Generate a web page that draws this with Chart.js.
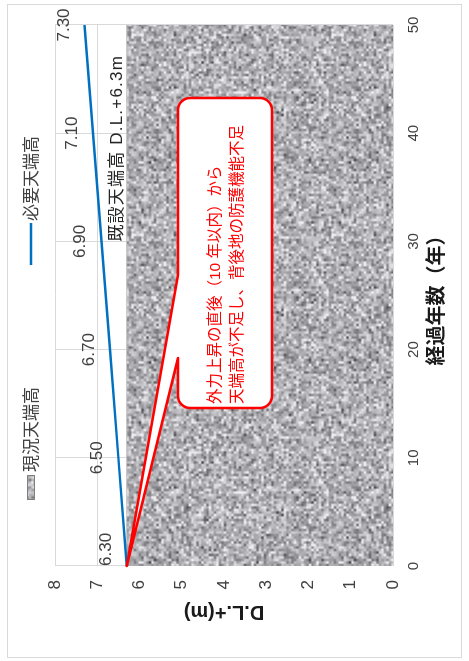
<!DOCTYPE html>
<html>
<head>
<meta charset="utf-8">
<script src="https://cdn.jsdelivr.net/npm/chart.js@4.4.1/dist/chart.umd.min.js"></script>
<style>
  html, body { margin: 0; padding: 0; background: #fff; }
  /* the chart is laid out landscape and turned a quarter turn counter-clockwise */
  #frame {
    position: absolute; left: 0; top: 0; width: 654px; height: 455px;
    transform-origin: 0 0; transform: translate(7px, 658px) rotate(-90deg);
    background: #fff;
  }
  #frame canvas { position: absolute; left: 0; top: 0; }
  #edge {
    position: absolute; left: 0; top: 0; width: 654px; height: 455px;
    box-sizing: border-box; border: 1px solid #d9d9d9; pointer-events: none;
  }
</style>
</head>
<body>
<div id="frame">
  <canvas id="chart" width="654" height="455"></canvas>
  <div id="edge"></div>
</div>
<script>
// elapsed years and crest heights (D.L.+ m)
const years = [0, 10, 20, 30, 40, 50];
const requiredCrest = [6.30, 6.50, 6.70, 6.90, 7.10, 7.30];
const existingCrest = [6.3, 6.3, 6.3, 6.3, 6.3, 6.3];
const seriesNames = ['現況天端高', '必要天端高'];
const xTitle = '経過年数（年）';
const yTitle = 'D.L.+(m)';
const crestNote = '既設天端高 D.L.+6.3m';
const calloutLines = ['外力上昇の直後（10 年以内）から', '天端高が不足し、背後地の防護機能不足'];

const FONT = '"Liberation Sans", "Noto Sans CJK JP", sans-serif';
const BLUE = '#0070C0';
const RED = '#FF0000';

// granite-like grey grain (seamless tile) used for the existing crest area
function makeGrain() {
  let s = 918273;
  const rnd = () => {
    s |= 0; s = s + 0x6D2B79F5 | 0;
    let t = Math.imul(s ^ s >>> 15, 1 | s);
    t = t + Math.imul(t ^ t >>> 7, 61 | t) ^ t;
    return ((t ^ t >>> 14) >>> 0) / 4294967296;
  };
  const n = 80, k = 2.5;
  const cells = new Float32Array(n * n);
  for (let i = 0; i < n * n; i++) {
    const r = (rnd() + rnd()) / 2;
    let v = 178 + (r - 0.5) * 160;
    if (rnd() < 0.05) v -= 50;
    cells[i] = v;
  }
  const size = n * k;
  const tile = document.createElement('canvas');
  tile.width = tile.height = size;
  const tctx = tile.getContext('2d');
  const img = tctx.createImageData(size, size);
  for (let Y = 0; Y < size; Y++) {
    for (let X = 0; X < size; X++) {
      const u = X / k, v = Y / k;
      const i0 = Math.floor(u), j0 = Math.floor(v);
      let fu = u - i0, fv = v - j0;
      fu = fu * fu * (3 - 2 * fu); fv = fv * fv * (3 - 2 * fv);
      const a = cells[(j0 % n) * n + (i0 % n)];
      const b = cells[(j0 % n) * n + ((i0 + 1) % n)];
      const c = cells[((j0 + 1) % n) * n + (i0 % n)];
      const d = cells[((j0 + 1) % n) * n + ((i0 + 1) % n)];
      let val = (a * (1 - fu) + b * fu) * (1 - fv) + (c * (1 - fu) + d * fu) * fv;
      val = Math.max(80, Math.min(236, val));
      const p = (Y * size + X) * 4;
      img.data[p] = val; img.data[p + 1] = val; img.data[p + 2] = val + 4; img.data[p + 3] = 255;
    }
  }
  tctx.putImageData(img, 0, 0);
  return tile;
}

const ctx = document.getElementById('chart').getContext('2d');
const grain = ctx.createPattern(makeGrain(), 'repeat');

function roundedCallout(c, l, t, r, b, rad, baseA, baseB, tipX, tipY) {
  c.beginPath();
  c.moveTo(l + rad, t);
  c.lineTo(baseA, t);
  c.lineTo(tipX, tipY);
  c.lineTo(baseB, t);
  c.lineTo(r - rad, t);
  c.arcTo(r, t, r, t + rad, rad);
  c.lineTo(r, b - rad);
  c.arcTo(r, b, r - rad, b, rad);
  c.lineTo(l + rad, b);
  c.arcTo(l, b, l, b - rad, rad);
  c.lineTo(l, t + rad);
  c.arcTo(l, t, l + rad, t, rad);
  c.closePath();
}

const overlay = {
  id: 'overlay',
  afterDatasetsDraw(chart) {
    const c = chart.ctx;
    const xs = chart.scales.x, ys = chart.scales.y;
    const area = chart.chartArea;
    c.save();

    // value labels above the required crest line
    c.font = '17px ' + FONT;
    c.fillStyle = '#404040';
    c.textBaseline = 'alphabetic';
    c.textAlign = 'left';
    years.forEach((yr, i) => {
      const txt = requiredCrest[i].toFixed(2);
      const w = c.measureText(txt).width;
      const px = xs.getPixelForValue(yr);
      const py = ys.getPixelForValue(requiredCrest[i]);
      let left = px - w / 2;
      if (left < area.left) left = area.left;
      c.fillText(txt, left, py - 16);
    });

    // note on the existing crest level
    c.font = '17px ' + FONT;
    c.fillStyle = '#262626';
    c.textAlign = 'right';
    if ('letterSpacing' in c) c.letterSpacing = '1.2px';
    c.fillText(crestNote, area.right - 30, ys.getPixelForValue(existingCrest[0]) - 5);
    if ('letterSpacing' in c) c.letterSpacing = '0px';

    // callout pointing at the start of the required crest line
    const bl = area.left + 158, br = area.left + 468;
    const bt = 171, bb = 265;
    const tipX = xs.getPixelForValue(years[0]);
    const tipY = ys.getPixelForValue(requiredCrest[0]);
    roundedCallout(c, bl, bt, br, bb, 12, bl + 50, bl + 133, tipX, tipY);
    c.fillStyle = '#fff';
    c.fill();
    c.lineWidth = 2.5;
    c.strokeStyle = RED;
    c.lineJoin = 'round';
    c.stroke();
    c.font = '15.5px ' + FONT;
    c.fillStyle = RED;
    c.textAlign = 'left';
    c.fillText(calloutLines[0], bl + 4, 213);
    c.fillText(calloutLines[1], bl + 4, 235);

    // legend
    const ly = 24;
    c.font = '17px ' + FONT;
    c.textBaseline = 'middle';
    c.fillStyle = grain;
    c.fillRect(158, ly - 4, 25, 8);
    c.lineWidth = 1;
    c.strokeStyle = '#7f7f7f';
    c.strokeRect(158.5, ly - 3.5, 24, 7);
    c.fillStyle = '#404040';
    c.fillText(chart.data.datasets[0].label, 186, ly + 1);
    c.beginPath();
    c.moveTo(393, ly);
    c.lineTo(435, ly);
    c.lineWidth = 2.5;
    c.strokeStyle = BLUE;
    c.stroke();
    c.fillText(chart.data.datasets[1].label, 437, ly + 1);

    c.restore();
  }
};

new Chart(ctx, {
  type: 'line',
  data: {
    datasets: [
      {
        label: seriesNames[0],
        data: years.map((x, i) => ({ x, y: existingCrest[i] })),
        fill: 'origin',
        backgroundColor: grain,
        borderColor: '#b8b8b8',
        borderWidth: 1,
        pointRadius: 0,
        order: 2
      },
      {
        label: seriesNames[1],
        data: years.map((x, i) => ({ x, y: requiredCrest[i] })),
        fill: false,
        borderColor: BLUE,
        borderWidth: 2.5,
        pointRadius: 0,
        order: 1
      }
    ]
  },
  options: {
    responsive: false,
    animation: false,
    devicePixelRatio: 1,
    layout: { padding: { left: 0, right: 21, top: 48, bottom: 0 } },
    plugins: { legend: { display: false }, tooltip: { enabled: false } },
    scales: {
      x: {
        type: 'linear', min: 0, max: 50,
        ticks: { stepSize: 10, padding: 12, color: '#404040', font: { family: FONT, size: 15 } },
        grid: { color: '#d9d9d9', drawTicks: false },
        border: { display: false },
        title: { display: true, text: xTitle, color: '#1a1a1a',
                 font: { family: FONT, size: 20, weight: 'bold' }, padding: { top: 0, bottom: 13 } },
        afterFit(s) { s.height = 69; }
      },
      y: {
        min: 0, max: 8,
        ticks: { stepSize: 1, padding: 14, color: '#404040', font: { family: FONT, size: 17 } },
        grid: { color: '#d9d9d9', drawTicks: false },
        border: { display: false },
        title: { display: true, text: yTitle, color: '#1a1a1a',
                 font: { family: FONT, size: 20, weight: 'bold' }, padding: { top: 34, bottom: 0 } },
        afterFit(s) { s.width = 92; }
      }
    }
  },
  plugins: [overlay]
});
</script>
</body>
</html>
